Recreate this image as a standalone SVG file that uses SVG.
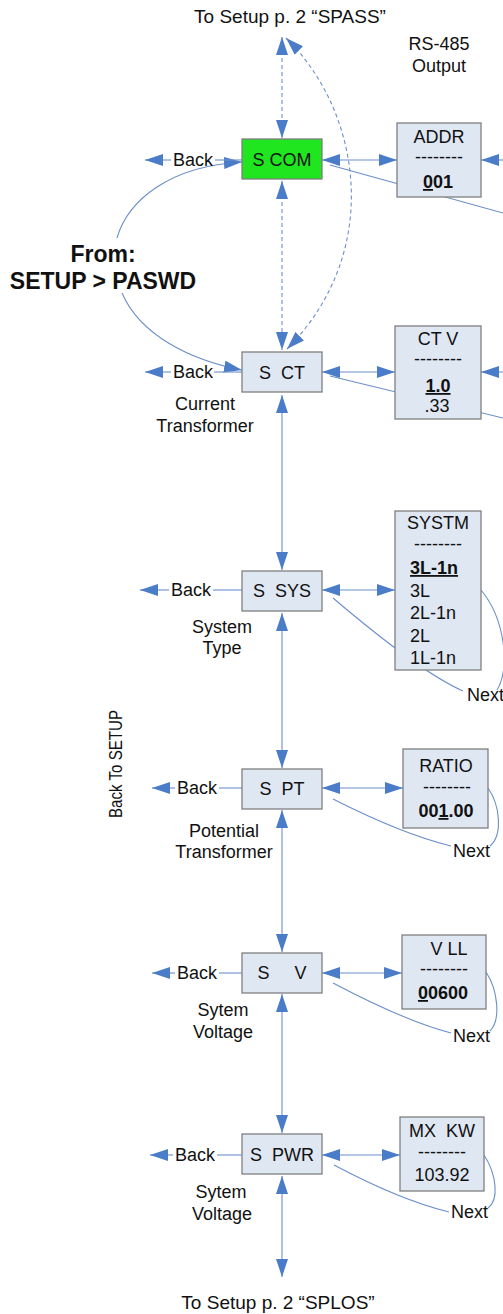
<svg xmlns="http://www.w3.org/2000/svg" width="503" height="1314" viewBox="0 0 503 1314">
<style>
.ln{stroke:#6b8fcb;stroke-width:1.1;fill:none}
.dash{stroke-dasharray:4 3}
.box{fill:#dfe7f3;stroke:#7f7f7f;stroke-width:1.3}
.t{font-family:"Liberation Sans",Arial,sans-serif;font-size:18px;fill:#111}
.m{text-anchor:middle}
.pre{white-space:pre}
.b{font-weight:bold}
.u{text-decoration:underline}
</style>
<defs>
<marker id="ah" viewBox="0 0 18 12" refX="18" refY="6" markerWidth="18" markerHeight="12" orient="auto-start-reverse" markerUnits="userSpaceOnUse">
<path d="M0,0 L18,6 L0,12 z" fill="#4a7cc7"/>
</marker>
</defs>
<rect width="503" height="1314" fill="#fff"/>

<g id="connectors">
<path class="ln dash" d="M282,37 L282,138" marker-start="url(#ah)" marker-end="url(#ah)"/>
<path class="ln dash" d="M282,181 L282,350" marker-start="url(#ah)" marker-end="url(#ah)"/>
<path class="ln dash" d="M286,38 C360,110 385,250 287,349" marker-start="url(#ah)" marker-end="url(#ah)"/>
<path class="ln" d="M117,238 C128,200 170,166 242,162" marker-end="url(#ah)"/>
<path class="ln" d="M122,293 C140,335 190,360 242,370" marker-end="url(#ah)"/>
<path class="ln" d="M282,395 L282,570" marker-start="url(#ah)" marker-end="url(#ah)"/>
<path class="ln" d="M282,613 L282,768" marker-start="url(#ah)" marker-end="url(#ah)"/>
<path class="ln" d="M282,810 L282,952" marker-start="url(#ah)" marker-end="url(#ah)"/>
<path class="ln" d="M282,994 L282,1133" marker-start="url(#ah)" marker-end="url(#ah)"/>
<path class="ln" d="M282,1176 L282,1277" marker-start="url(#ah)" marker-end="url(#ah)"/>
<path class="ln" d="M171,160 L145,160" marker-end="url(#ah)"/>
<path class="ln" d="M215,160 L242,160"/>
<path class="ln" d="M171,372 L145,372" marker-end="url(#ah)"/>
<path class="ln" d="M214,372 L242,372"/>
<path class="ln" d="M169,590 L140,590" marker-end="url(#ah)"/>
<path class="ln" d="M213,590 L242,590"/>
<path class="ln" d="M175,788 L152,788" marker-end="url(#ah)"/>
<path class="ln" d="M219,788 L242,788"/>
<path class="ln" d="M175,973 L152,973" marker-end="url(#ah)"/>
<path class="ln" d="M219,973 L242,973"/>
<path class="ln" d="M173,1155 L150,1155" marker-end="url(#ah)"/>
<path class="ln" d="M217,1155 L242,1155"/>
<path class="ln" d="M322,160 L397,160" marker-start="url(#ah)" marker-end="url(#ah)"/>
<path class="ln" d="M503,213 L330,165"/>
<path class="ln" d="M503,160 L481,160" marker-end="url(#ah)"/>
<path class="ln" d="M322,372 L395,372" marker-start="url(#ah)" marker-end="url(#ah)"/>
<path class="ln" d="M503,418 L330,376"/>
<path class="ln" d="M503,372 L481,372" marker-end="url(#ah)"/>
<path class="ln" d="M322,590 L395,590" marker-start="url(#ah)" marker-end="url(#ah)"/>
<path class="ln" d="M463,691 Q420,672 333,598"/>
<path class="ln" d="M481,590 C506,620 510,670 497,690"/>
<path class="ln" d="M322,788 L403,788" marker-start="url(#ah)" marker-end="url(#ah)"/>
<path class="ln" d="M451,846 Q402,834 333,799"/>
<path class="ln" d="M488,788 C500,805 503,835 490,846"/>
<path class="ln" d="M322,973 L402,973" marker-start="url(#ah)" marker-end="url(#ah)"/>
<path class="ln" d="M451,1033 Q405,1021 333,983"/>
<path class="ln" d="M486,972 C498,990 501,1020 490,1031"/>
<path class="ln" d="M322,1155 L400,1155" marker-start="url(#ah)" marker-end="url(#ah)"/>
<path class="ln" d="M449,1212 Q400,1200 334,1165"/>
<path class="ln" d="M484,1155 C497,1175 499,1200 488,1208"/>
</g>

<g id="labels" class="t">
<text class="t m" x="290" y="23" style="font-size:19px">To Setup p. 2 “SPASS”</text>
<text class="t m" x="439" y="50">RS-485</text>
<text class="t m" x="439" y="72">Output</text>
<text class="t m b" x="103" y="262" style="font-size:23px">From:</text>
<text class="t m b" x="103" y="289" style="font-size:23px">SETUP &gt; PASWD</text>
<text class="t" x="173" y="166">Back</text>
<text class="t" x="173" y="378">Back</text>
<text class="t" x="171" y="596">Back</text>
<text class="t" x="177" y="794">Back</text>
<text class="t" x="177" y="979">Back</text>
<text class="t" x="175" y="1161">Back</text>
<text class="t m" x="205" y="410">Current</text>
<text class="t m" x="205" y="432">Transformer</text>
<text class="t m" x="222" y="633">System</text>
<text class="t m" x="222" y="654">Type</text>
<text class="t m" x="224" y="837">Potential</text>
<text class="t m" x="224" y="858">Transformer</text>
<text class="t m" x="223" y="1016">Sytem</text>
<text class="t m" x="223" y="1038">Voltage</text>
<text class="t m" x="221" y="1198">Sytem</text>
<text class="t m" x="222" y="1220">Voltage</text>
<text class="t" x="467" y="701">Next</text>
<text class="t" x="453" y="857">Next</text>
<text class="t" x="453" y="1042">Next</text>
<text class="t" x="451" y="1218">Next</text>
<text class="t m" x="278" y="1309" style="font-size:19px">To Setup p. 2 “SPLOS”</text>
<text class="t m" transform="translate(115,764) rotate(-90)" x="0" y="7" style="font-size:19px" textLength="108" lengthAdjust="spacingAndGlyphs">Back To SETUP</text>
</g>

<g id="n-scom">
<rect x="242" y="139" width="80" height="40" fill="#1fe61f" stroke="#7f7f7f" stroke-width="1.3"/>
<text class="t m" x="282" y="166">S COM</text>
</g>
<g id="n-addr">
<rect class="box" x="397" y="123" width="84" height="74"/>
<text class="t m" x="439" y="143">ADDR</text>
<text class="t m" x="439" y="163">--------</text>
<text class="t m b" x="438" y="188"><tspan class="u">0</tspan>01</text>
</g>
<g id="n-sct">
<rect class="box" x="242" y="352" width="80" height="40"/>
<text class="t m pre" x="282" y="379">S  CT</text>
</g>
<g id="n-ctv">
<rect class="box" x="395" y="326" width="86" height="93"/>
<text class="t m" x="438" y="345">CT V</text>
<text class="t m" x="438" y="365">--------</text>
<text class="t m b u" x="438" y="392">1.0</text>
<text class="t m" x="437" y="412">.33</text>
</g>
<g id="n-ssys">
<rect class="box" x="242" y="571" width="80" height="40"/>
<text class="t m pre" x="282" y="597">S  SYS</text>
</g>
<g id="n-systm">
<rect class="box" x="395" y="511" width="86" height="159"/>
<text class="t m" x="438" y="529">SYSTM</text>
<text class="t m" x="438" y="550">--------</text>
<text class="t b u" x="410" y="574">3L-1n</text>
<text class="t" x="410" y="597">3L</text>
<text class="t" x="410" y="619">2L-1n</text>
<text class="t" x="410" y="642">2L</text>
<text class="t" x="410" y="664">1L-1n</text>
</g>
<g id="n-spt">
<rect class="box" x="242" y="769" width="80" height="40"/>
<text class="t m pre" x="282" y="795">S  PT</text>
</g>
<g id="n-ratio">
<rect class="box" x="403" y="749" width="85" height="79"/>
<text class="t m" x="446" y="772">RATIO</text>
<text class="t m" x="447" y="793">--------</text>
<text class="t m b" x="446" y="817">00<tspan class="u">1</tspan>.00</text>
</g>
<g id="n-sv">
<rect class="box" x="242" y="953" width="80" height="40"/>
<text class="t m pre" x="282" y="979">S     V</text>
</g>
<g id="n-vll">
<rect class="box" x="402" y="935" width="84" height="74"/>
<text class="t m" x="449" y="955">V LL</text>
<text class="t m" x="444" y="975">--------</text>
<text class="t m b" x="443" y="999"><tspan class="u">0</tspan>0600</text>
</g>
<g id="n-spwr">
<rect class="box" x="242" y="1134" width="80" height="40"/>
<text class="t m pre" x="282" y="1161">S  PWR</text>
</g>
<g id="n-mxkw">
<rect class="box" x="400" y="1117" width="84" height="74"/>
<text class="t m pre" x="442" y="1137">MX  KW</text>
<text class="t m" x="442" y="1158">--------</text>
<text class="t m" x="442" y="1181">103.92</text>
</g>
</svg>
